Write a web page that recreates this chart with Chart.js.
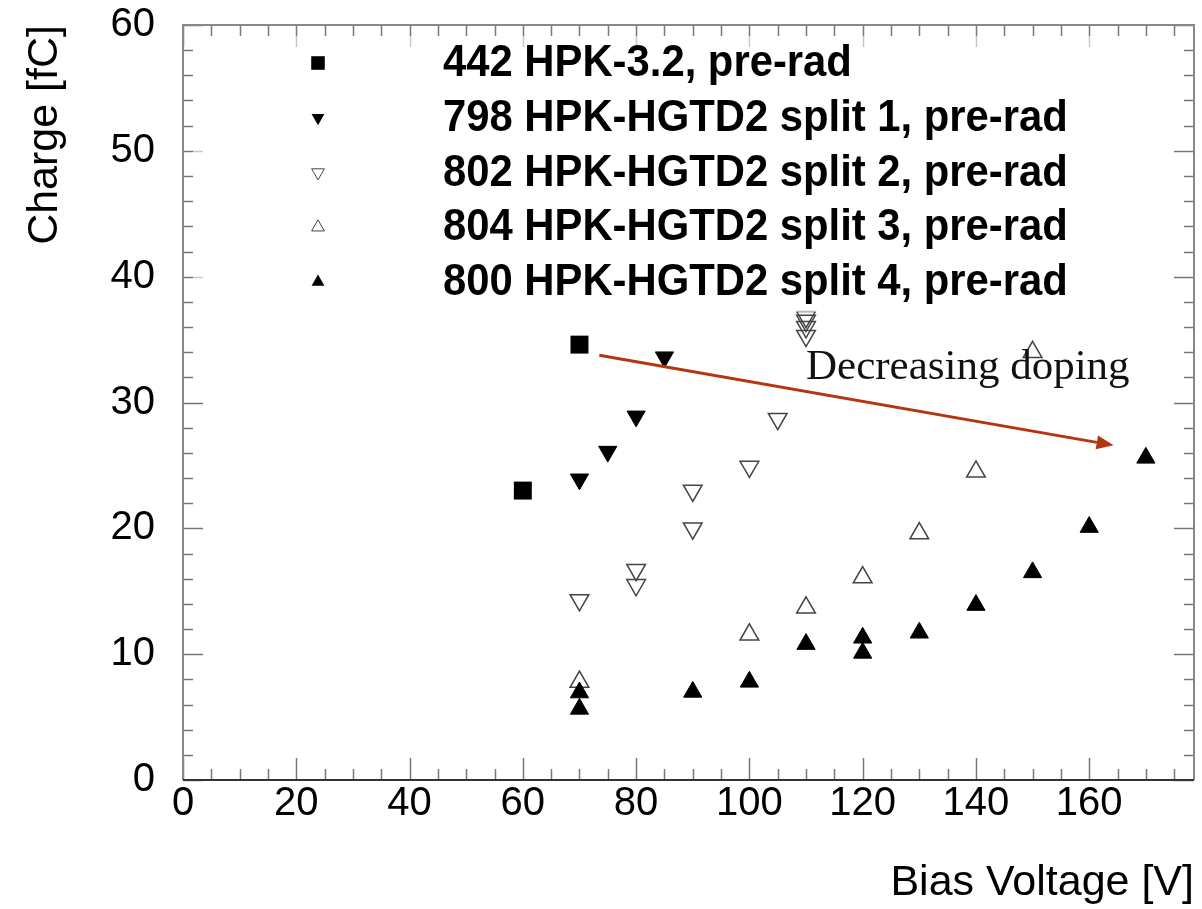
<!DOCTYPE html>
<html>
<head>
<meta charset="utf-8">
<title>Charge vs Bias Voltage</title>
<script src="https://cdn.jsdelivr.net/npm/chart.js@4.4.0/dist/chart.umd.min.js"></script>
<style>
  body { margin: 0; background: #fff; }
  #c { display: block; }
</style>
</head>
<body>
<canvas id="c" width="1202" height="909"></canvas>
<script>
// values
const v442 = [60, 70];
const q442 = [23.0, 34.6];

const v798 = [70, 75, 80, 85];
const q798 = [23.9, 26.1, 28.9, 33.6];

const v802 = [70, 80, 80, 90, 90, 100, 105, 110, 110, 110, 110];
const q802 = [14.3, 16.7, 15.5, 23.0, 20.0, 24.9, 28.7, 36.8, 36.5, 36.0, 35.3];

const v804 = [70, 100, 110, 120, 130, 140, 150];
const q804 = [7.8, 11.55, 13.7, 16.1, 19.6, 24.5, 34.0];

const v800 = [70, 70, 90, 100, 110, 120, 120, 130, 140, 150, 160, 170];
const q800 = [6.95, 5.65, 7.0, 7.8, 10.8, 11.3, 10.1, 11.7, 13.9, 16.5, 20.1, 25.6];

const xTicks = [0, 20, 40, 60, 80, 100, 120, 140, 160];
const yTicks = [0, 10, 20, 30, 40, 50, 60];

// arrow + label in data coordinates
const arrowFrom = [73.5, 33.75];
const arrowTo = [164.3, 26.6];
const noteText = 'Decreasing doping';
const notePos = [110, 31.9];

function pts(xs, ys) {
  return xs.map(function (x, i) { return { x: x, y: ys[i] }; });
}

const datasets = [
  { label: '442 HPK-3.2, pre-rad', data: pts(v442, q442), pointStyle: 'rect', rotation: 0,
    pointRadius: 12.7, backgroundColor: '#000', borderColor: '#000', borderWidth: 0, order: 1, open: false },
  { label: '798 HPK-HGTD2 split 1, pre-rad', data: pts(v798, q798), pointStyle: 'triangle', rotation: 180,
    pointRadius: 10.5, backgroundColor: '#000', borderColor: '#000', borderWidth: 1, order: 1, open: false },
  { label: '802 HPK-HGTD2 split 2, pre-rad', data: pts(v802, q802), pointStyle: 'triangle', rotation: 180,
    pointRadius: 10.8, backgroundColor: 'rgba(0,0,0,0)', borderColor: '#444', borderWidth: 1.5, order: 1, open: true },
  { label: '804 HPK-HGTD2 split 3, pre-rad', data: pts(v804, q804), pointStyle: 'triangle', rotation: 0,
    pointRadius: 10.8, backgroundColor: 'rgba(0,0,0,0)', borderColor: '#444', borderWidth: 1.5, order: 1, open: true },
  { label: '800 HPK-HGTD2 split 4, pre-rad', data: pts(v800, q800), pointStyle: 'triangle', rotation: 0,
    pointRadius: 10.5, backgroundColor: '#000', borderColor: '#000', borderWidth: 1, order: 0, open: false }
];

datasets.forEach(function (d) {
  d.showLine = false;
  d.pointHoverRadius = d.pointRadius;
  d.pointRotation = d.rotation;
});

// ROOT style frame with ticks pointing inwards
const frameTicks = {
  id: 'frameTicks',
  beforeDatasetsDraw(chart) {
    const ctx = chart.ctx, a = chart.chartArea;
    const xs = chart.scales.x, ys = chart.scales.y;
    ctx.save();
    ctx.strokeStyle = '#777';
    ctx.lineWidth = 1.5;
    ctx.beginPath();
    for (let v = 0; v <= xs.max; v += 5) {
      const px = Math.round(xs.getPixelForValue(v)) + 0.5;
      const len = (v % 20 === 0) ? 22 : 11;
      ctx.moveTo(px, a.bottom); ctx.lineTo(px, a.bottom - len);
      ctx.moveTo(px, a.top); ctx.lineTo(px, a.top + len);
    }
    for (let v = 0; v <= ys.max; v += 2) {
      const py = Math.round(ys.getPixelForValue(v)) + 0.5;
      const len = (v % 10 === 0) ? 20 : 10;
      ctx.moveTo(a.left, py); ctx.lineTo(a.left + len, py);
      ctx.moveTo(a.right, py); ctx.lineTo(a.right - len, py);
    }
    ctx.stroke();
    ctx.lineWidth = 2;
    ctx.strokeStyle = '#888';
    ctx.beginPath();
    ctx.moveTo(a.left, a.bottom); ctx.lineTo(a.left, a.top);
    ctx.lineTo(a.right, a.top); ctx.lineTo(a.right, a.bottom);
    ctx.stroke();
    ctx.strokeStyle = '#333';
    ctx.beginPath();
    ctx.moveTo(a.left, a.bottom); ctx.lineTo(a.right, a.bottom);
    ctx.stroke();
    ctx.restore();
  }
};

function marker(ctx, style, rot, x, y, r) {
  ctx.beginPath();
  if (style === 'rect') {
    const s = r * Math.SQRT1_2;
    ctx.rect(x - s, y - s, 2 * s, 2 * s);
  } else {
    let ang = rot * Math.PI / 180;
    for (let k = 0; k < 3; k++) {
      const px = x + Math.sin(ang) * r, py = y - Math.cos(ang) * r;
      if (k === 0) ctx.moveTo(px, py); else ctx.lineTo(px, py);
      ang += 2 * Math.PI / 3;
    }
    ctx.closePath();
  }
}

const boxLegend = {
  id: 'boxLegend',
  afterDatasetsDraw(chart) {
    const ctx = chart.ctx;
    ctx.save();
    ctx.fillStyle = 'rgba(255,255,255,0.6)';
    ctx.fillRect(193, 36, 960, 276);
    ctx.textBaseline = 'middle';
    ctx.textAlign = 'left';
    chart.data.datasets.forEach(function (d, i) {
      const y = 63 + i * 54.75;
      marker(ctx, d.pointStyle, d.rotation, 318, y, d.pointStyle === 'rect' ? 9.6 : 7.4);
      if (d.open) {
        ctx.strokeStyle = '#444'; ctx.lineWidth = 1; ctx.stroke();
      } else {
        ctx.fillStyle = '#000'; ctx.fill();
      }
      ctx.save();
      ctx.translate(443, y + 1);
      ctx.scale(0.95, 1);
      ctx.fillStyle = '#000';
      ctx.font = 'bold 44px "Liberation Sans", Arial, sans-serif';
      ctx.fillText(d.label, 0, 0);
      ctx.restore();
    });
    ctx.restore();
  }
};

const arrowNote = {
  id: 'arrowNote',
  afterDraw(chart) {
    const ctx = chart.ctx, xs = chart.scales.x, ys = chart.scales.y;
    const x0 = xs.getPixelForValue(arrowFrom[0]), y0 = ys.getPixelForValue(arrowFrom[1]);
    const x1 = xs.getPixelForValue(arrowTo[0]), y1 = ys.getPixelForValue(arrowTo[1]);
    const ang = Math.atan2(y1 - y0, x1 - x0);
    const hl = 17, hw = 7;
    ctx.save();
    ctx.strokeStyle = '#b3360f';
    ctx.fillStyle = '#b3360f';
    ctx.lineWidth = 3;
    ctx.beginPath();
    ctx.moveTo(x0, y0);
    ctx.lineTo(x1 - Math.cos(ang) * hl, y1 - Math.sin(ang) * hl);
    ctx.stroke();
    ctx.beginPath();
    ctx.moveTo(x1, y1);
    ctx.lineTo(x1 - Math.cos(ang) * hl - Math.sin(ang) * hw, y1 - Math.sin(ang) * hl + Math.cos(ang) * hw);
    ctx.lineTo(x1 - Math.cos(ang) * hl + Math.sin(ang) * hw, y1 - Math.sin(ang) * hl - Math.cos(ang) * hw);
    ctx.closePath();
    ctx.fill();
    ctx.fillStyle = '#111';
    ctx.font = '43px "Liberation Serif", "DejaVu Serif", serif';
    ctx.textBaseline = 'alphabetic';
    ctx.fillText(noteText, xs.getPixelForValue(notePos[0]), ys.getPixelForValue(notePos[1]));
    ctx.restore();
  }
};

const tickFont = { family: '"Liberation Sans", Arial, sans-serif', size: 40 };
const titleFont = { family: '"Liberation Sans", Arial, sans-serif', size: 43 };

new Chart(document.getElementById('c').getContext('2d'), {
  type: 'scatter',
  data: { datasets: datasets },
  options: {
    responsive: false,
    animation: false,
    devicePixelRatio: 1,
    layout: { autoPadding: false, padding: { left: 0, right: 8, top: 25, bottom: 0 } },
    plugins: { legend: { display: false }, tooltip: { enabled: false } },
    scales: {
      x: {
        type: 'linear', position: 'bottom', min: 0, max: 178.5,
        grid: { display: false }, border: { display: false },
        afterBuildTicks: function (s) { s.ticks = xTicks.map(function (v) { return { value: v }; }); },
        afterFit: function (s) { s.height = 129; s.paddingLeft = 0; s.paddingRight = 0; },
        ticks: { color: '#000', font: tickFont, padding: -8, maxRotation: 0, autoSkip: false },
        title: { display: true, text: 'Bias Voltage [V]', align: 'end', color: '#000', font: titleFont, padding: { top: 0, bottom: 0 } }
      },
      y: {
        type: 'linear', min: 0, max: 60,
        grid: { display: false }, border: { display: false },
        afterBuildTicks: function (s) { s.ticks = yTicks.map(function (v) { return { value: v }; }); },
        afterFit: function (s) { s.width = 183; s.paddingTop = 0; s.paddingBottom = 0; },
        ticks: { color: '#000', font: tickFont, padding: 20 },
        title: { display: true, text: 'Charge [fC]', align: 'end', color: '#000', font: titleFont, padding: { top: 19, bottom: 0 } }
      }
    }
  },
  plugins: [frameTicks, boxLegend, arrowNote]
});
</script>
</body>
</html>
